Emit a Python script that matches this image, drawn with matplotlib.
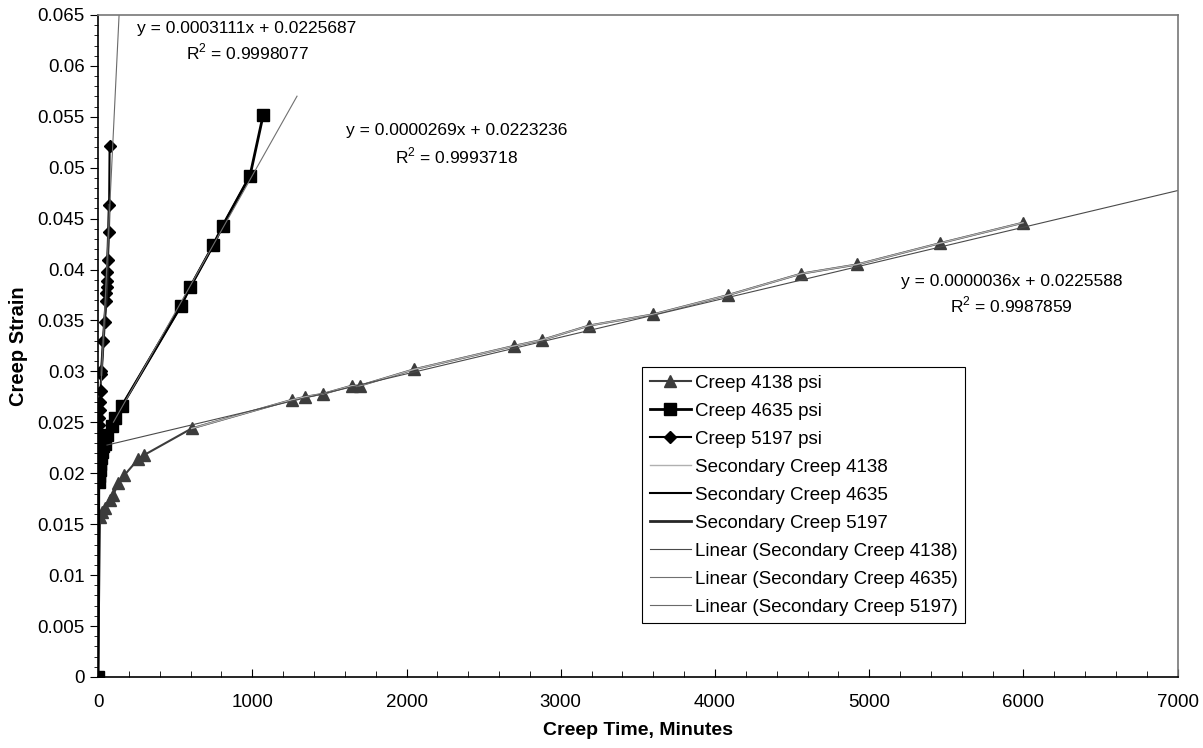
import matplotlib
matplotlib.use('Agg')
import matplotlib.pyplot as plt
import numpy as np
from matplotlib.ticker import MultipleLocator, FuncFormatter

plt.rcParams['font.family'] = ['Liberation Sans', 'DejaVu Sans']
plt.rcParams['mathtext.fontset'] = 'custom'
plt.rcParams['mathtext.rm'] = 'Liberation Sans'

# Creep 4138 psi
t_4138 = [0, 13, 24, 45, 78, 99, 132, 170, 261, 300, 607, 1255, 1342, 1460, 1646, 1698,
          2048, 2696, 2880, 3184, 3599, 4085, 4560, 4921, 5461, 5997]
e_4138 = [0, 0.0157, 0.0162, 0.0166, 0.0174, 0.0179, 0.0190, 0.0198, 0.0214, 0.0218, 0.0244,
          0.0272, 0.0275, 0.0278, 0.0286, 0.0286, 0.0302, 0.0325, 0.0331, 0.0345, 0.0356,
          0.0375, 0.0396, 0.0405, 0.0426, 0.0446]

# Creep 4635 psi
t_4635 = [0, 5, 8, 12, 15, 20, 25, 30, 43, 60, 89, 110, 154, 536, 598, 747, 808, 985, 1071]
e_4635 = [0, 0.0191, 0.0197, 0.0203, 0.0209, 0.0215, 0.0221, 0.0227, 0.0229, 0.0238, 0.0246,
          0.0254, 0.0266, 0.0364, 0.0383, 0.0424, 0.0443, 0.0492, 0.0552]

# Creep 5197 psi
t_5197 = [0, 3, 4, 5, 7, 8, 10, 13, 16, 21, 22, 34, 42, 52, 54, 56, 58, 59, 62, 68, 72, 75]
e_5197 = [0, 0.0226, 0.0233, 0.0240, 0.0247, 0.0254, 0.0262, 0.0270, 0.0281, 0.0297, 0.0300,
          0.0330, 0.0349, 0.0369, 0.0377, 0.0383, 0.0389, 0.0398, 0.0409, 0.0437, 0.0463, 0.0521]

# secondary creep ranges (index into data above)
sec_4138 = slice(10, 26)
sec_4635 = slice(12, 18)
sec_5197 = slice(9, 21)

# linear fits (slope, intercept, r2, x range)
fit_4138 = (0.0000036, 0.0225588, '0.9987859', (58, 7000))
fit_4635 = (0.0000269, 0.0223236, '0.9993718', (100, 1290))
fit_5197 = (0.0003111, 0.0225687, '0.9998077', (20, 140))

fig = plt.figure(figsize=(12.03, 7.48), dpi=100)
ax = fig.add_axes([0.0815, 0.095, 0.8975, 0.885])

ax.plot(t_4138, e_4138, color='#3c3c3c', lw=1.5, marker='^', ms=8.5, label='Creep 4138 psi')
ax.plot(t_4635, e_4635, color='black', lw=2, marker='s', ms=8.5, label='Creep 4635 psi')
ax.plot(t_5197, e_5197, color='black', lw=1.5, marker='D', ms=6.5, label='Creep 5197 psi')

ax.plot(t_4138[sec_4138], e_4138[sec_4138], color='#b0b0b0', lw=1, label='Secondary Creep 4138')
ax.plot(t_4635[sec_4635], e_4635[sec_4635], color='black', lw=1.5, label='Secondary Creep 4635')
ax.plot(t_5197[sec_5197], e_5197[sec_5197], color='#262626', lw=2, label='Secondary Creep 5197')

for fit, col, name in [(fit_4138, '#4a4a4a', '4138'), (fit_4635, '#707070', '4635'),
                       (fit_5197, '#6a6a6a', '5197')]:
    xs = np.array(fit[3], dtype=float)
    ax.plot(xs, fit[0] * xs + fit[1], color=col, lw=0.8,
            label='Linear (Secondary Creep %s)' % name)

ax.set_xlim(0, 7000)
ax.set_ylim(0, 0.065)
ax.xaxis.set_major_locator(MultipleLocator(1000))
ax.xaxis.set_minor_locator(MultipleLocator(200))
ax.yaxis.set_major_locator(MultipleLocator(0.005))
ax.yaxis.set_minor_locator(MultipleLocator(0.001))
ax.yaxis.set_major_formatter(FuncFormatter(lambda v, p: ('%.3f' % v).rstrip('0').rstrip('.') if v else '0'))

ax.tick_params(axis='x', which='both', direction='in', labelsize=13.5, pad=12)
ax.tick_params(axis='x', which='major', length=6)
ax.tick_params(axis='x', which='minor', length=4)
ax.tick_params(axis='y', which='major', direction='out', length=6, labelsize=13.5)
ax.tick_params(axis='y', which='minor', direction='out', length=3)

for s in ax.spines.values():
    s.set_linewidth(1.2)
ax.spines['top'].set_color('#777777')
ax.spines['right'].set_color('#777777')

ax.set_xlabel('Creep Time, Minutes', fontsize=14, fontweight='bold', labelpad=8)
ax.set_ylabel('Creep Strain', fontsize=14.5, fontweight='bold', labelpad=7)

for fit, pos in [(fit_5197, (0.138, 0.980, 0.944)), (fit_4635, (0.332, 0.825, 0.787)),
                 (fit_4138, (0.846, 0.598, 0.562))]:
    ax.text(pos[0], pos[1], 'y = %.7fx + %.7f' % (fit[0], fit[1]), transform=ax.transAxes,
            ha='center', va='center', fontsize=12.5)
    ax.text(pos[0], pos[2], 'R$^2$ = %s' % fit[2], transform=ax.transAxes,
            ha='center', va='center', fontsize=12.5)

leg = ax.legend(loc='upper left', bbox_to_anchor=(0.504, 0.468), fontsize=13.5,
                frameon=True, fancybox=False, edgecolor='black', framealpha=1,
                handlelength=2.2, labelspacing=0.58, borderpad=0.4, handletextpad=0.2,
                borderaxespad=0)
leg.get_frame().set_linewidth(0.8)

fig.savefig('out.png', dpi=100)
